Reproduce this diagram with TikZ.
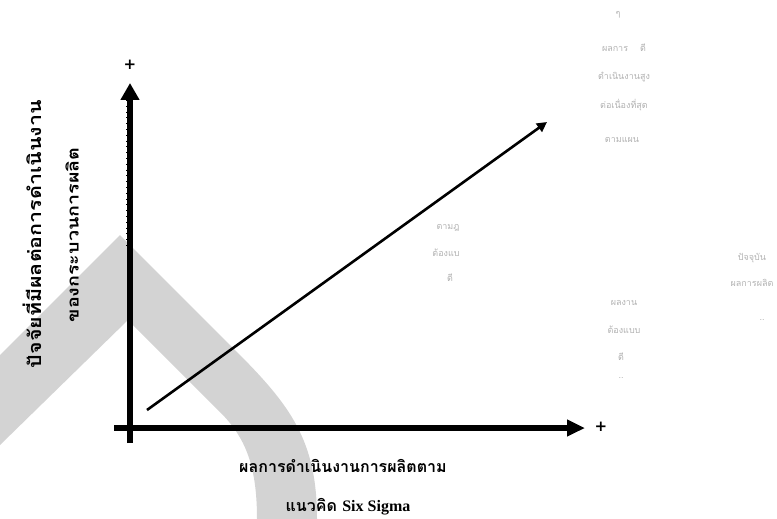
\documentclass[tikz,border=0pt]{standalone}
\usepackage{fontspec}
\newfontfamily\thai[Script=Thai]{Loma}
\newfontfamily\lserif{Liberation Serif}
\newfontfamily\dsans{DejaVu Sans}
\usetikzlibrary{arrows.meta}
\definecolor{bandgray}{RGB}{211,211,211}
\tikzset{
  axisline/.style={line width=6pt},
  lbl/.style={font=\thai\bfseries\fontsize{16}{18}\selectfont, inner sep=0pt},
  faint/.style={font=\thai\fontsize{9}{11}\selectfont, text=black!30, inner sep=0pt, align=center},
  plus/.style={font=\dsans\bfseries\fontsize{15}{15}\selectfont, inner sep=0pt},
}
\begin{document}
\begin{tikzpicture}[x=1pt,y=-1pt]
\useasboundingbox (0,0) rectangle (777,519);
\fill[white] (0,0) rectangle (777,519);
% gray watermark band
\fill[bandgray] (0,445) -- (128,320) -- (220,412) .. controls (245,437) and (257,465) .. (257,519)
  -- (317,519) .. controls (317,440) and (290,405) .. (235,350) -- (120,235) -- (0,355) -- cycle;
% axes
\coordinate (ybot) at (130,443);
\coordinate (ytop) at (130,83);
\coordinate (xleft) at (114,428);
\coordinate (xright) at (585,428);
\coordinate (dstart) at (147,410);
\coordinate (dend) at (547,122);
\draw[axisline,-{Triangle[length=17pt,width=18pt]}] (ybot) -- (ytop);
\draw[axisline,-{Triangle[length=18pt,width=16pt]}] (xleft) -- (xright);
\draw[line width=1.2pt, dash pattern=on 0.8pt off 5pt] (126.3,100) -- (126.3,250);
\draw[line width=2.6pt,-{Triangle[length=10pt,width=10pt]}] (dstart) -- (dend);
\node[plus] (yplus) at (130,65) {+};
\node[plus] (xplus) at (601,427) {+};
% axis labels
\node[lbl, font=\thai\bfseries\fontsize{18}{20}\selectfont, rotate=90, xscale=1.19] (ylab1) at (32,234) {ปัจจัยที่มีผลต่อการดำเนินงาน};
\node[lbl, rotate=90, xscale=1.23] (ylab2) at (72,235) {ของกระบวนการผลิต};
\node[lbl] (xlab1) at (343,466) {ผลการดำเนินงานการผลิตตาม};
\node[lbl] (xlab2) at (348,507) {แนวคิด {\lserif\bfseries Six Sigma}};
% faint texts
\node[faint] (fa0) at (618,15) {ๆ};
\node[faint] (fa1) at (624,48) {ผลการ \quad ดี};
\node[faint] (fa2) at (624,77) {ดำเนินงานสูง};
\node[faint] (fa3) at (624,105) {ต่อเนื่องที่สุด};
\node[faint] (fa4) at (622,140) {ตามแผน};
\node[faint] (fb1) at (448,228) {ตามฎ};
\node[faint] (fb2) at (446,253) {ต้องแบ};
\node[faint] (fb3) at (450,278) {ดี};
\node[faint] (fc1) at (624,303) {ผลงาน};
\node[faint] (fc2) at (624,330) {ต้องแบบ};
\node[faint] (fc3) at (621,357) {ดี};
\node[faint] (fc4) at (621,378) {..};
\node[faint] (fd1) at (752,258) {ปัจจุบัน};
\node[faint] (fd2) at (752,283) {ผลการผลิต};
\node[faint] (fd3) at (762,320) {..};
\end{tikzpicture}
\end{document}
